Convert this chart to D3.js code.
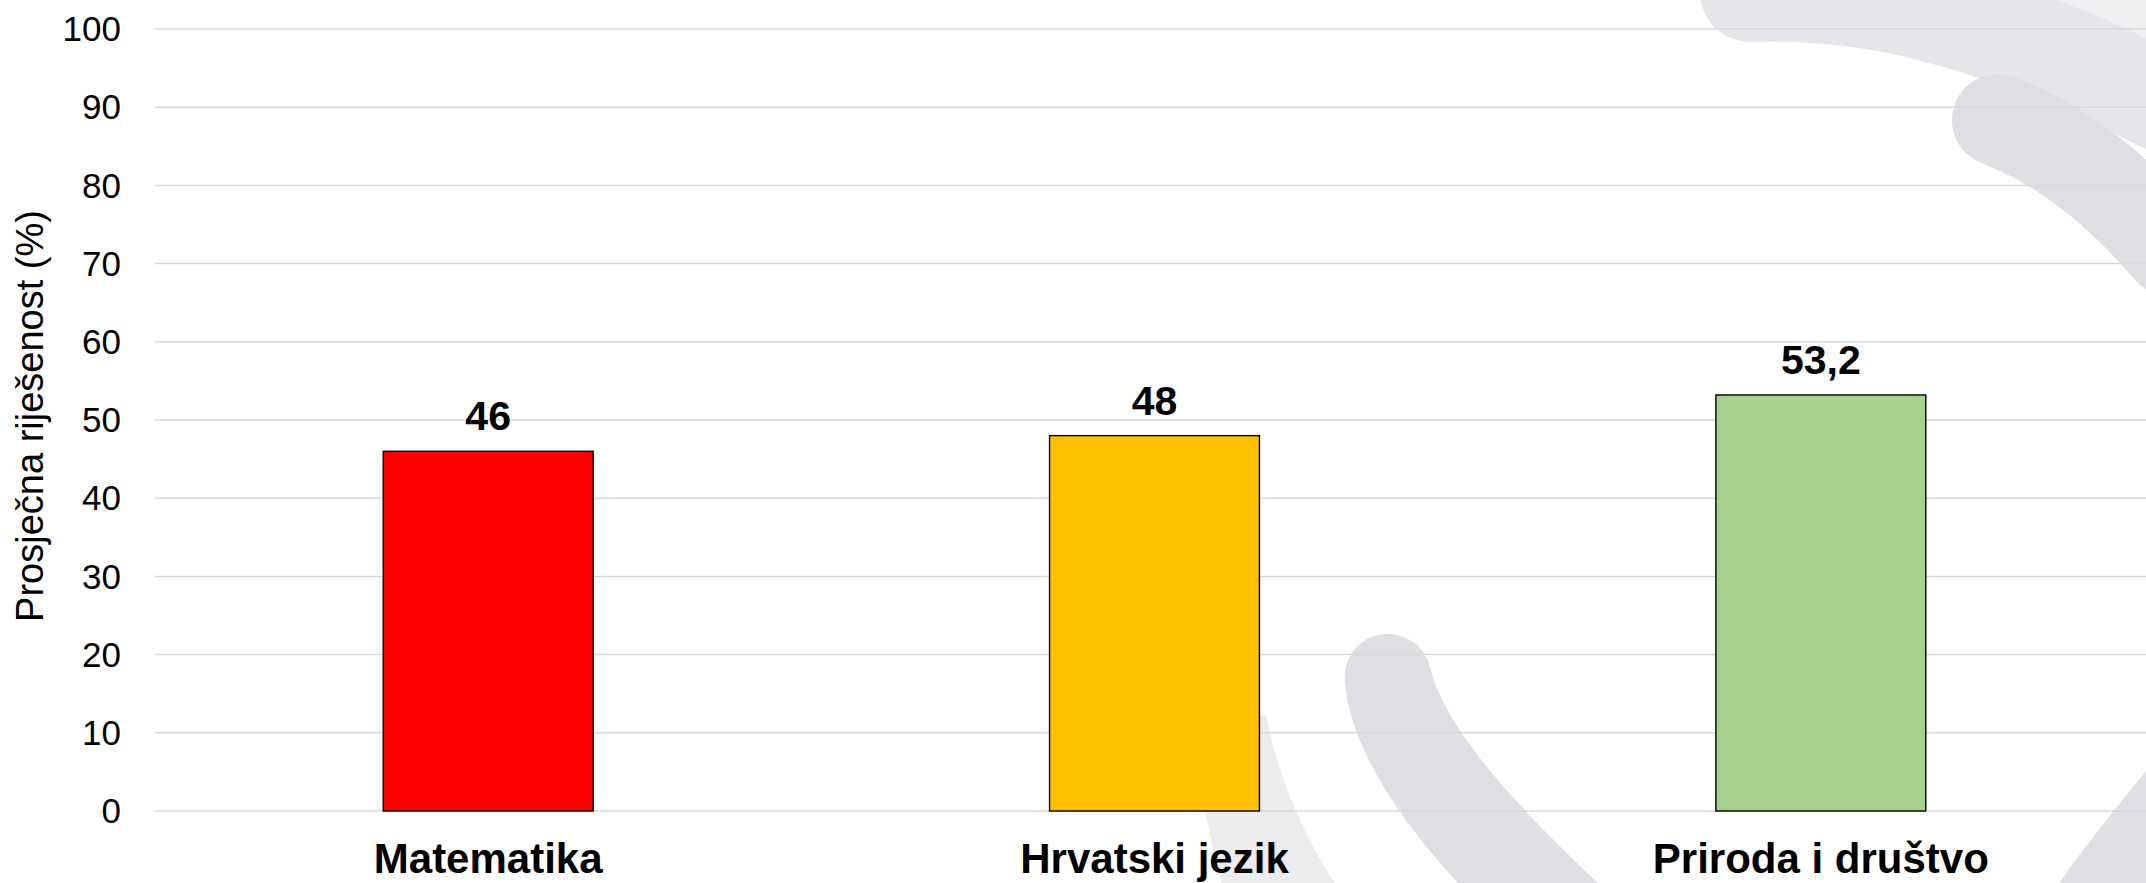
<!DOCTYPE html>
<html>
  <head>
    <meta charset="utf-8">
    <!-- load the d3 javascript library -->
    <script src="https://d3js.org/d3.v7.min.js"></script>
    <style>
      body { margin: 0; background: #fff; }
      svg { display: block; }
    </style>
  </head>
  <body>

    <script>

    // chart data
    var categories = ["Matematika", "Hrvatski jezik", "Priroda i društvo"];
    var values = [46, 48, 53.2];
    var valueLabels = ["46", "48", "53,2"];
    var barColors = ["#ff0000", "#ffc000", "#a9d18e"];
    var yTicks = [0, 10, 20, 30, 40, 50, 60, 70, 80, 90, 100];
    var yTitle = "Prosječna riješenost (%)";

    // svg size and plot area
    var w = 2146;
    var h = 883;
    var plotLeft = 155;
    var plotRight = 2154;
    var plotTop = 29;
    var plotBottom = 811;
    var font = "'Liberation Sans', Arial, sans-serif";

    var svg = d3.select("body")
      .append("svg")
      .attr("width", w)
      .attr("height", h);

    // background watermark swooshes (light grey)
    var deco = svg.append("g");
    deco.append("path")
      .attr("d", "M2045,0 L2146,0 L2146,50 Z")
      .attr("fill", "#efeff2");
    deco.append("path")
      .attr("d", "M1750,-8 C1860,-12 1980,10 2170,105")
      .attr("fill", "none")
      .attr("stroke", "#e6e6ea")
      .attr("stroke-width", 100)
      .attr("stroke-linecap", "round");
    deco.append("path")
      .attr("d", "M1998,120 C2050,140 2110,180 2170,250")
      .attr("fill", "none")
      .attr("stroke", "#dedee3")
      .attr("stroke-width", 92)
      .attr("stroke-linecap", "round");
    deco.append("path")
      .attr("d", "M2158,756 C2118,806 2085,845 2058,885 L2160,885 Z")
      .attr("fill", "#dfdfe4");
    deco.append("path")
      .attr("d", "M1195,725 C1198,780 1210,840 1222,885 L1336,885 C1300,830 1278,775 1266,715 Z")
      .attr("fill", "#ececef");
    deco.append("path")
      .attr("d", "M1345,683 A43.3,43.3 0 0 1 1430,667 C1445,730 1520,810 1600,885 L1460,885 C1390,810 1350,740 1345,683 Z")
      .attr("fill", "#dedee3");

    // scales
    var x = d3.scaleBand()
      .domain(categories)
      .range([plotLeft, plotRight])
      .paddingInner(0.685)
      .paddingOuter(0.3425);

    var y = d3.scaleLinear()
      .domain([0, 100])
      .range([plotBottom, plotTop]);

    // horizontal gridlines
    svg.selectAll(".grid")
      .data(yTicks)
      .enter()
      .append("line")
      .attr("x1", plotLeft)
      .attr("x2", w)
      .attr("y1", function(d) { return y(d); })
      .attr("y2", function(d) { return y(d); })
      .attr("stroke", "#d9d9d9")
      .attr("stroke-width", 1.5);

    // y tick labels
    svg.selectAll(".ytick")
      .data(yTicks)
      .enter()
      .append("text")
      .text(function(d) { return d; })
      .attr("x", 121)
      .attr("y", function(d) { return y(d); })
      .attr("dy", "0.35em")
      .attr("text-anchor", "end")
      .attr("font-family", font)
      .attr("font-size", "35px")
      .attr("fill", "#000");

    // y axis title
    svg.append("text")
      .text(yTitle)
      .attr("transform", "translate(43,416) rotate(-90)")
      .attr("text-anchor", "middle")
      .attr("font-family", font)
      .attr("font-size", "38px")
      .attr("fill", "#000");

    // bars
    svg.selectAll(".bar")
      .data(values)
      .enter()
      .append("rect")
      .attr("x", function(d, i) { return x(categories[i]); })
      .attr("y", function(d) { return y(d); })
      .attr("width", x.bandwidth())
      .attr("height", function(d) { return plotBottom - y(d); })
      .attr("fill", function(d, i) { return barColors[i]; })
      .attr("stroke", "#000")
      .attr("stroke-width", 1.4);

    // value labels above bars
    svg.selectAll(".val")
      .data(values)
      .enter()
      .append("text")
      .text(function(d, i) { return valueLabels[i]; })
      .attr("x", function(d, i) { return x(categories[i]) + x.bandwidth() / 2; })
      .attr("y", function(d) { return y(d) - 21; })
      .attr("text-anchor", "middle")
      .attr("font-family", font)
      .attr("font-weight", "bold")
      .attr("font-size", "41px")
      .attr("fill", "#000");

    // category labels
    svg.selectAll(".cat")
      .data(categories)
      .enter()
      .append("text")
      .text(function(d) { return d; })
      .attr("x", function(d) { return x(d) + x.bandwidth() / 2; })
      .attr("y", 873)
      .attr("text-anchor", "middle")
      .attr("font-family", font)
      .attr("font-weight", "bold")
      .attr("font-size", "42px")
      .attr("fill", "#000");

    </script>
  </body>
</html>
